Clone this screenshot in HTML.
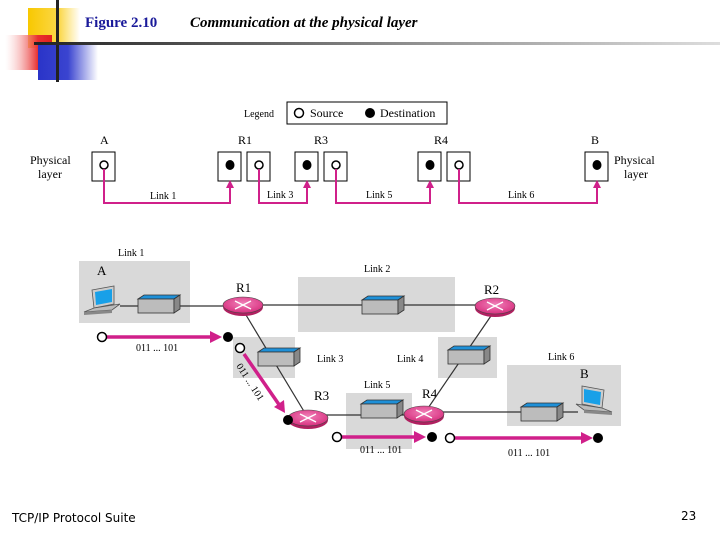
<!DOCTYPE html>
<html><head><style>body{margin:0;background:#fff}svg{display:block}</style></head><body>
<svg width="720" height="540" viewBox="0 0 720 540" xmlns="http://www.w3.org/2000/svg" font-family="Liberation Serif, serif">
<defs>
<linearGradient id="gy" x1="0" x2="1"><stop offset="0" stop-color="#f8c800"/><stop offset="0.6" stop-color="#fbd84a"/><stop offset="1" stop-color="#fff"/></linearGradient>
<linearGradient id="gr" x1="0" x2="1"><stop offset="0" stop-color="#fff" stop-opacity="0.3"/><stop offset="0.7" stop-color="#e83030"/><stop offset="1" stop-color="#e02020"/></linearGradient>
<linearGradient id="gb" x1="0" x2="1"><stop offset="0" stop-color="#2a34c8"/><stop offset="0.5" stop-color="#3a44d0"/><stop offset="1" stop-color="#fff"/></linearGradient>
<linearGradient id="gl" x1="0" x2="1"><stop offset="0" stop-color="#222"/><stop offset="0.6" stop-color="#999"/><stop offset="1" stop-color="#ddd"/></linearGradient>
<radialGradient id="rt" cx="0.5" cy="0.4" r="0.6"><stop offset="0" stop-color="#f080b8"/><stop offset="1" stop-color="#d8307f"/></radialGradient>
<g id="sw"><polygon points="0,4 6,0 42,0 36,4" fill="#1e90d8" stroke="#333" stroke-width="0.8"/><rect x="0" y="4" width="36" height="14" fill="#bcbcbc" stroke="#333" stroke-width="0.8"/><polygon points="36,4 42,0 42,14 36,18" fill="#888" stroke="#333" stroke-width="0.8"/></g>
<g id="rtr"><ellipse cx="0" cy="2" rx="20" ry="9" fill="#b02060"/><ellipse cx="0" cy="0" rx="20" ry="8" fill="url(#rt)" stroke="#444" stroke-width="0.6"/><path d="M-8,-4 L8,4 M-8,4 L8,-4" stroke="#fff" stroke-width="1.3"/></g>
<g id="lap"><polygon points="8,0 30,-4 30,14 10,18" fill="#ccc" stroke="#555" stroke-width="0.8"/><polygon points="11,2 28,-1 28,12 12,15" fill="#18a0e8"/><polygon points="0,22 10,18 36,14 28,20" fill="#bbb" stroke="#555" stroke-width="0.8"/><polygon points="0,22 28,20 28,23 0,25" fill="#888"/></g>
</defs>
<!-- header decoration -->
<rect x="28" y="8" width="52" height="40" fill="url(#gy)"/>
<rect x="5" y="35" width="47" height="35" fill="url(#gr)"/>
<rect x="38" y="45" width="60" height="35" fill="url(#gb)"/>
<rect x="56" y="0" width="3" height="82" fill="#222"/>
<rect x="34" y="42" width="686" height="3" fill="url(#gl)"/>
<text x="85" y="27" font-size="15" font-weight="bold" fill="#1a1a9a">Figure 2.10</text>
<text x="190" y="27" font-size="15" font-weight="bold" font-style="italic" fill="#000">Communication at the physical layer</text>
<!-- legend -->
<text x="244" y="117" font-size="10">Legend</text>
<rect x="287" y="102" width="160" height="22" fill="#fff" stroke="#000"/>
<circle cx="299" cy="113" r="4.5" fill="#fff" stroke="#000" stroke-width="1.5"/>
<text x="310" y="117" font-size="12">Source</text>
<circle cx="370" cy="113" r="5" fill="#000"/>
<text x="380" y="117" font-size="12">Destination</text>
<!-- top labels -->
<g font-size="12">
<text x="100" y="144">A</text><text x="238" y="144">R1</text><text x="314" y="144">R3</text><text x="434" y="144">R4</text><text x="591" y="144">B</text>
<text x="30" y="164">Physical</text><text x="38" y="178">layer</text>
<text x="614" y="164">Physical</text><text x="624" y="178">layer</text>
</g>
<g stroke="#000" fill="#fff">
<rect x="92" y="152" width="23" height="29"/><rect x="218" y="152" width="23" height="29"/><rect x="247" y="152" width="23" height="29"/>
<rect x="295" y="152" width="23" height="29"/><rect x="324" y="152" width="23" height="29"/><rect x="418" y="152" width="23" height="29"/>
<rect x="447" y="152" width="23" height="29"/><rect x="585" y="152" width="23" height="29"/>
</g>
<g fill="#fff" stroke="#000" stroke-width="1.5">
<circle cx="104" cy="165" r="4"/><circle cx="259" cy="165" r="4"/><circle cx="336" cy="165" r="4"/><circle cx="459" cy="165" r="4"/>
</g>
<g fill="#000"><ellipse cx="230" cy="165" rx="4.5" ry="5"/><ellipse cx="307" cy="165" rx="4.5" ry="5"/><ellipse cx="430" cy="165" rx="4.5" ry="5"/><ellipse cx="597" cy="165" rx="4.5" ry="5"/></g>
<g stroke="#d0208a" stroke-width="2" fill="none">
<path d="M104,169 V203 H230 V186"/><path d="M259,169 V203 H307 V186"/><path d="M336,169 V203 H430 V186"/><path d="M459,169 V203 H597 V186"/>
</g>
<g fill="#d0208a"><path d="M226,188 L230,180 L234,188Z"/><path d="M303,188 L307,180 L311,188Z"/><path d="M426,188 L430,180 L434,188Z"/><path d="M593,188 L597,180 L601,188Z"/></g>
<g font-size="10"><text x="150" y="199">Link 1</text><text x="267" y="198">Link 3</text><text x="366" y="198">Link 5</text><text x="508" y="198">Link 6</text></g>
<!-- bottom network -->
<g fill="#d9d9d9">
<rect x="79" y="261" width="111" height="62"/><rect x="298" y="277" width="157" height="55"/>
<rect x="233" y="337" width="62" height="41"/><rect x="438" y="337" width="59" height="41"/>
<rect x="507" y="365" width="114" height="61"/><rect x="346" y="393" width="66" height="56"/>
</g>
<g font-size="10">
<text x="118" y="256">Link 1</text><text x="364" y="272">Link 2</text><text x="317" y="362">Link 3</text><text x="397" y="362">Link 4</text>
<text x="548" y="360">Link 6</text><text x="364" y="388">Link 5</text>
</g>
<g font-size="13"><text x="97" y="275">A</text><text x="236" y="292">R1</text><text x="484" y="294">R2</text><text x="314" y="400">R3</text><text x="422" y="398">R4</text><text x="580" y="378">B</text></g>
<g stroke="#333" stroke-width="1.2">
<line x1="120" y1="306" x2="243" y2="306"/><line x1="243" y1="305" x2="495" y2="305"/>
<line x1="243" y1="310" x2="308" y2="418"/><line x1="495" y1="310" x2="424" y2="414"/>
<line x1="308" y1="415" x2="424" y2="415"/><line x1="424" y1="412" x2="578" y2="412"/>
</g>
<use href="#lap" x="84" y="290"/>
<use href="#sw" x="138" y="295"/><use href="#sw" x="362" y="296"/><use href="#sw" x="258" y="348"/>
<use href="#sw" x="448" y="346"/><use href="#sw" x="361" y="400"/><use href="#sw" x="521" y="403"/>
<g transform="translate(612,390) scale(-1,1)"><use href="#lap" x="0" y="0"/></g>
<use href="#rtr" x="243" y="305"/><use href="#rtr" x="495" y="306"/><use href="#rtr" x="308" y="418"/><use href="#rtr" x="424" y="414"/>
<!-- pink arrows -->
<g stroke="#d0208a" stroke-width="3.5">
<line x1="106" y1="337" x2="212" y2="337"/><line x1="244" y1="354" x2="280" y2="406"/>
<line x1="341" y1="437" x2="416" y2="437"/><line x1="454" y1="438" x2="583" y2="438"/>
</g>
<g fill="#d0208a">
<path d="M210,331 L222,337 L210,343Z"/><path d="M274,407 L285,413 L284,400Z"/>
<path d="M414,431 L426,437 L414,443Z"/><path d="M581,432 L593,438 L581,444Z"/>
</g>
<g fill="#fff" stroke="#000" stroke-width="1.5"><circle cx="102" cy="337" r="4.5"/><circle cx="240" cy="348" r="4.5"/><circle cx="337" cy="437" r="4.5"/><circle cx="450" cy="438" r="4.5"/></g>
<g fill="#000"><circle cx="228" cy="337" r="5"/><circle cx="288" cy="420" r="5"/><circle cx="432" cy="437" r="5"/><circle cx="598" cy="438" r="5"/></g>
<g font-size="10">
<text x="136" y="351">011 ... 101</text><text x="360" y="453">011 ... 101</text><text x="508" y="456">011 ... 101</text>
<text x="0" y="0" transform="translate(236,366) rotate(57)">011 ... 101</text>
</g>
<text x="12" y="522" font-family="DejaVu Sans, sans-serif" font-size="12">TCP/IP Protocol Suite</text>
<text x="681" y="520" font-family="DejaVu Sans, sans-serif" font-size="12">23</text>
</svg>
</body></html>
